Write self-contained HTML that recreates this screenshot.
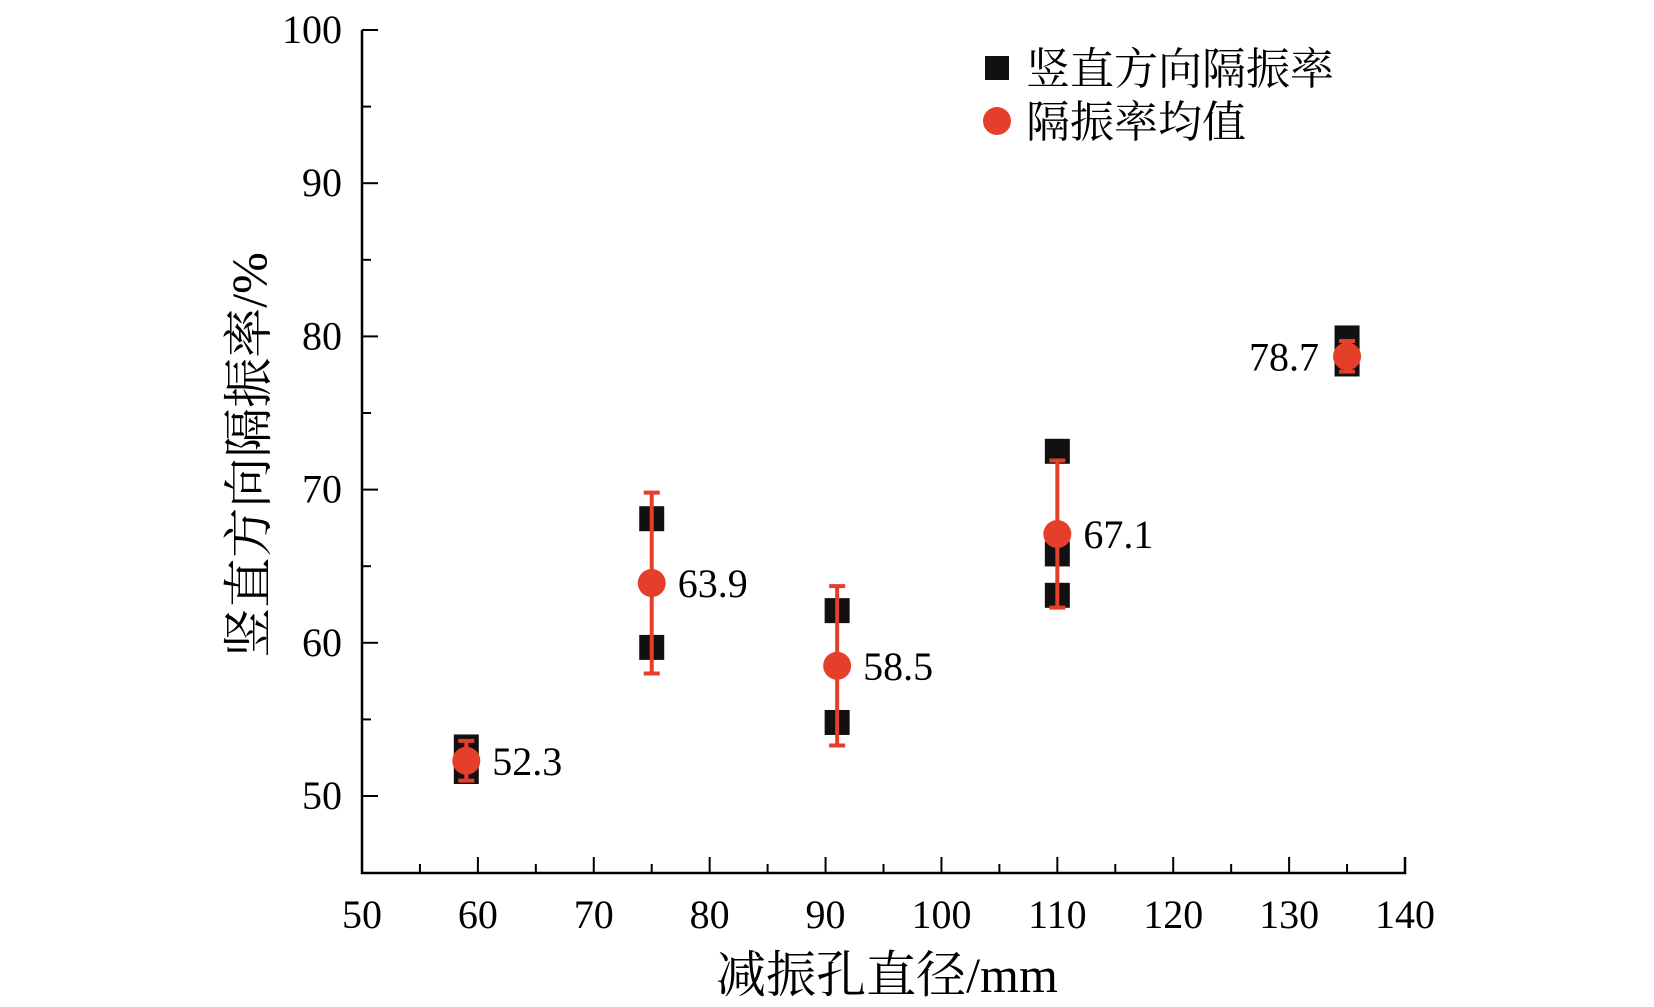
<!DOCTYPE html>
<html><head><meta charset="utf-8"><style>
html,body{margin:0;padding:0;background:#fff;}
svg{display:block;font-family:"Liberation Serif","Noto Serif CJK SC",serif;}
</style></head><body>
<svg id="chart" width="1654" height="1007" viewBox="0 0 1654 1007"></svg>
<script>
const categories=[59,75,91,110,135];
const meanValues=[52.3,63.9,58.5,67.1,78.7];
const errLow=[51.0,58.0,53.3,62.3,77.7];
const errHigh=[53.6,69.8,63.7,71.9,79.7];
const rawX=[59,59,75,75,91,91,110,110,110,135,135];
const rawY=[53.2,51.6,68.1,59.7,62.1,54.8,72.5,65.8,63.1,79.9,78.2];
const xTicks=[50,60,70,80,90,100,110,120,130,140];
const yTicks=[50,60,70,80,90,100];

const NS="http://www.w3.org/2000/svg";
const svg=document.getElementById('chart');
const X0=362,X1=1405,Y0=873,Ytop=30;
const xMin=50,xMax=140,yMin=45,yMax=100;
const y50=796,y100=30;
function sx(v){return X0+(v-xMin)*(X1-X0)/(xMax-xMin);}
function sy(v){return y50-(v-50)*(y50-y100)/50;}
function el(t,a,p){const e=document.createElementNS(NS,t);for(const k in a)e.setAttribute(k,a[k]);(p||svg).appendChild(e);return e;}

const axes=el('g',{});


const ax=el('path',{d:`M${X0},${sy(100)} L${X0},${Y0} L${X1},${Y0} L${X1},${Y0-16}`,stroke:'#000','stroke-width':2.5,fill:'none'},axes);


for(let v=55;v<=140;v+=5){
  const major=v%10===0;
  el('line',{x1:sx(v),x2:sx(v),y1:Y0,y2:Y0-(major?16:9),stroke:'#000','stroke-width':2},axes);
}
for(let v=50;v<=100;v+=5){
  const major=v%10===0;
  el('line',{x1:X0,x2:X0+(major?16:9),y1:sy(v),y2:sy(v),stroke:'#000','stroke-width':2},axes);
}
xTicks.forEach(v=>{
  const t=el('text',{x:sx(v),y:928,'text-anchor':'middle','font-size':40},axes);
  t.textContent=v;
  
  
});
yTicks.forEach(v=>{
  const t=el('text',{x:342,y:sy(v)+13,'text-anchor':'end','font-size':40},axes);
  t.textContent=v;
  
  
});
const xt=el('text',{x:887,y:992,'text-anchor':'middle','font-size':50});
xt.textContent='减振孔直径/mm';


const yt=el('text',{x:0,y:0,'text-anchor':'middle','font-size':50,transform:'translate(266,455) rotate(-90)'});
yt.textContent='竖直方向隔振率/%';



rawX.forEach((x,i)=>{
  const r=el('rect',{x:sx(x)-12.5,y:sy(rawY[i])-12.5,width:25,height:25,fill:'#111'});
  
  
});
categories.forEach((x,i)=>{
  const cx=sx(x);
  const g=el('g',{stroke:'#e53e2b','stroke-width':4});
  
  
  el('line',{x1:cx,x2:cx,y1:sy(errLow[i]),y2:sy(errHigh[i])},g);
  el('line',{x1:cx-8,x2:cx+8,y1:sy(errLow[i]),y2:sy(errLow[i])},g);
  el('line',{x1:cx-8,x2:cx+8,y1:sy(errHigh[i]),y2:sy(errHigh[i])},g);
  const c=el('circle',{cx:cx,cy:sy(meanValues[i]),r:14,fill:'#e53e2b'});
  
  
  const left=i===categories.length-1;
  const t=el('text',{x:left?cx-28:cx+26,y:sy(meanValues[i])+14,'text-anchor':left?'end':'start','font-size':40});
  t.textContent=meanValues[i].toFixed(1);
  
  
});

const lg=el('g',{});


el('rect',{x:985,y:56,width:24,height:24,fill:'#111'},lg);
const l1=el('text',{x:1026,y:84,'font-size':44},lg);
l1.textContent='竖直方向隔振率';


el('circle',{cx:997,cy:121,r:14,fill:'#e53e2b'},lg);
const l2=el('text',{x:1026,y:137,'font-size':44},lg);
l2.textContent='隔振率均值';


</script>
</body></html>
